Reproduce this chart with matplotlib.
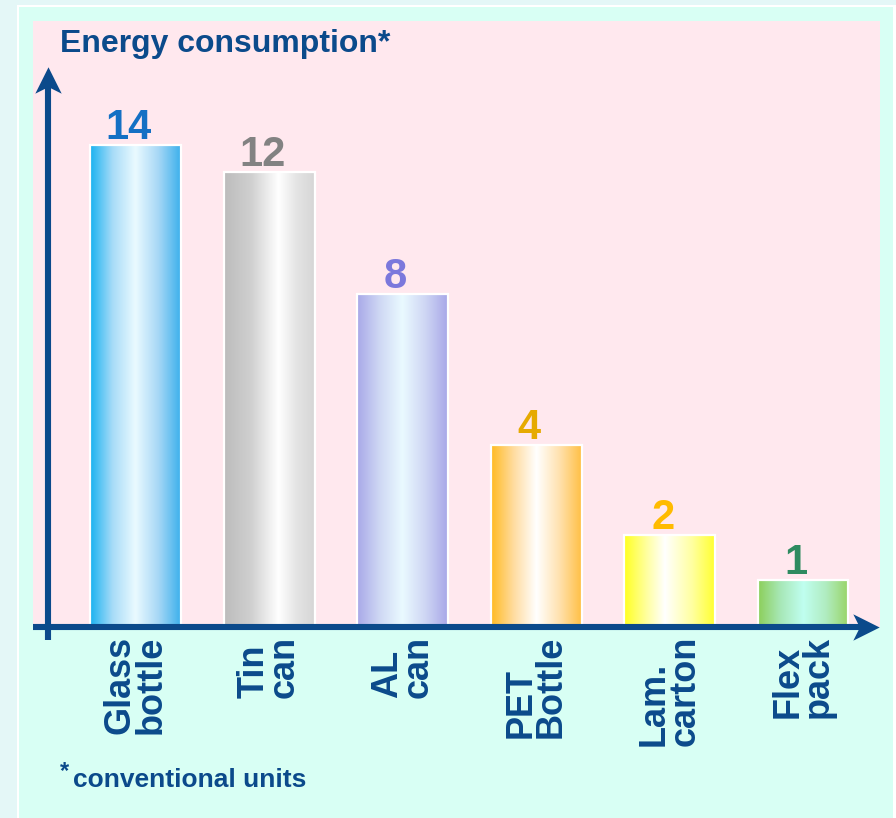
"""Energy consumption by packaging type - gradient bar chart."""

import numpy as np
import matplotlib
matplotlib.use("Agg")
import matplotlib.pyplot as plt
from matplotlib.colors import LinearSegmentedColormap
from matplotlib.patches import Rectangle
from matplotlib.path import Path

plt.rcParams["font.family"] = ["Liberation Sans", "DejaVu Sans"]

# ---- data ------------------------------------------------------------------
categories = ["Glass\nbottle", "Tin\ncan", "AL\ncan", "PET\nBottle",
              "Lam.\ncarton", "Flex\npack"]
value_labels = ["14", "12", "8", "4", "2", "1"]
# bar heights as drawn in the original (not proportional to the labels)
bar_heights = [10.7, 10.1, 7.4, 4.05, 2.05, 1.05]

# ---- style -----------------------------------------------------------------
NAVY = "#0b4a8b"
label_colors = ["#1470c4", "#828282", "#7b78dc", "#e6aa00", "#ffbb00",
                "#2e8b60"]
gradients = [
    [(0, "#1ab2f0"), (0.25, "#a8dcf8"), (0.5, "#eafaff"), (0.75, "#a8d8f6"), (1, "#3cb0ec")],
    [(0, "#bcbcbc"), (0.3, "#d0d0d0"), (0.6, "#ffffff"), (0.8, "#e4e4e4"), (1, "#d6d6d6")],
    [(0, "#a8a8e8"), (0.25, "#cfd8f4"), (0.5, "#eafaff"), (0.75, "#cfd6f4"), (1, "#a8a8e8")],
    [(0, "#ffbb22"), (0.25, "#ffdca0"), (0.5, "#ffffff"), (0.75, "#ffe2b0"), (1, "#ffbf44")],
    [(0, "#ffff20"), (0.25, "#ffffa0"), (0.45, "#ffffff"), (0.75, "#ffffa0"), (1, "#ffff30")],
    [(0, "#8ccf5a"), (0.25, "#a8e8b8"), (0.5, "#c0fff0"), (0.75, "#b0ecc0"), (1, "#98d465")],
]

W, H = 896, 818
fig = plt.figure(figsize=(W / 100, H / 100), dpi=100)
fig.patch.set_facecolor("#e4f7f7")


def fx(px):
    return px / W


def fy(py):
    return 1 - py / H


# white frame + mint panel (behind the axes)
fig.patches.append(Rectangle((fx(17), fy(818)), fx(896) - fx(17), fy(5) - fy(818),
                             transform=fig.transFigure, facecolor="white",
                             edgecolor="none", zorder=-2))
fig.patches.append(Rectangle((fx(19), fy(818)), fx(893) - fx(19), fy(7) - fy(818),
                             transform=fig.transFigure, facecolor="#d8fff4",
                             edgecolor="none", zorder=-1))

ax = fig.add_axes([fx(33), fy(627), fx(880) - fx(33), fy(21) - fy(627)])
ax.set_facecolor("#ffe8ee")
for s in ax.spines.values():
    s.set_visible(False)
ax.set_xticks([])
ax.set_yticks([])

x = np.arange(len(categories))
bars = ax.bar(x, bar_heights, width=0.68, facecolor="none",
              edgecolor="white", lw=1.6, zorder=3)

grad = np.linspace(0, 1, 256).reshape(1, -1)
for b, stops in zip(bars, gradients):
    cmap = LinearSegmentedColormap.from_list("g", stops)
    ax.imshow(grad, extent=[b.get_x(), b.get_x() + b.get_width(), 0, b.get_height()],
              aspect="auto", cmap=cmap, interpolation="bilinear", zorder=2)

for b, lab, col in zip(bars, value_labels, label_colors):
    ax.annotate(lab, (b.get_x() + b.get_width() / 2, b.get_height()),
                xytext=(-5, 4.3), textcoords="offset points",
                ha="center", va="baseline", fontsize=30, fontweight="bold",
                color=col, zorder=4)

for xi, cat in zip(x, categories):
    ax.text(xi, -0.2, cat, rotation=90, ha="center", va="top",
            multialignment="left", linespacing=0.85, fontsize=26,
            fontweight="bold", color=NAVY, clip_on=False)

ax.set_xlim(-0.769, 5.576)
ax.set_ylim(0, 13.46)

# axes: shafts + notched arrow heads
head_right = Path([(1, 0), (-1, 1), (-0.5, 0), (-1, -1), (1, 0)],
                  [Path.MOVETO, Path.LINETO, Path.LINETO, Path.LINETO, Path.CLOSEPOLY])
head_up = Path([(0, 1), (1, -1), (0, -0.5), (-1, -1), (0, 1)],
               [Path.MOVETO, Path.LINETO, Path.LINETO, Path.LINETO, Path.CLOSEPOLY])

ax.plot([-0.769, 5.45], [0, 0], color=NAVY, lw=4.4, solid_capstyle="butt",
        clip_on=False, zorder=5)
ax.plot([5.471], [0], marker=head_right, markersize=19, color=NAVY,
        markeredgewidth=0, clip_on=False, zorder=5)
ax.plot([-0.656, -0.656], [-0.29, 12.0], color=NAVY, lw=4.4,
        solid_capstyle="butt", clip_on=False, zorder=5)
ax.plot([-0.656], [12.156], marker=head_up, markersize=19, color=NAVY,
        markeredgewidth=0, clip_on=False, zorder=5)

fig.text(fx(60), fy(52), "Energy consumption*", fontsize=23, fontweight="bold",
         color=NAVY, va="baseline", ha="left")
fig.text(fx(60), fy(778), "*", fontsize=17, fontweight="bold",
         color=NAVY, va="baseline", ha="left")
fig.text(fx(73), fy(787), "conventional units", fontsize=19, fontweight="bold",
         color=NAVY, va="baseline", ha="left")

fig.savefig("out.png", dpi=100, facecolor=fig.get_facecolor())
plt.close(fig)
